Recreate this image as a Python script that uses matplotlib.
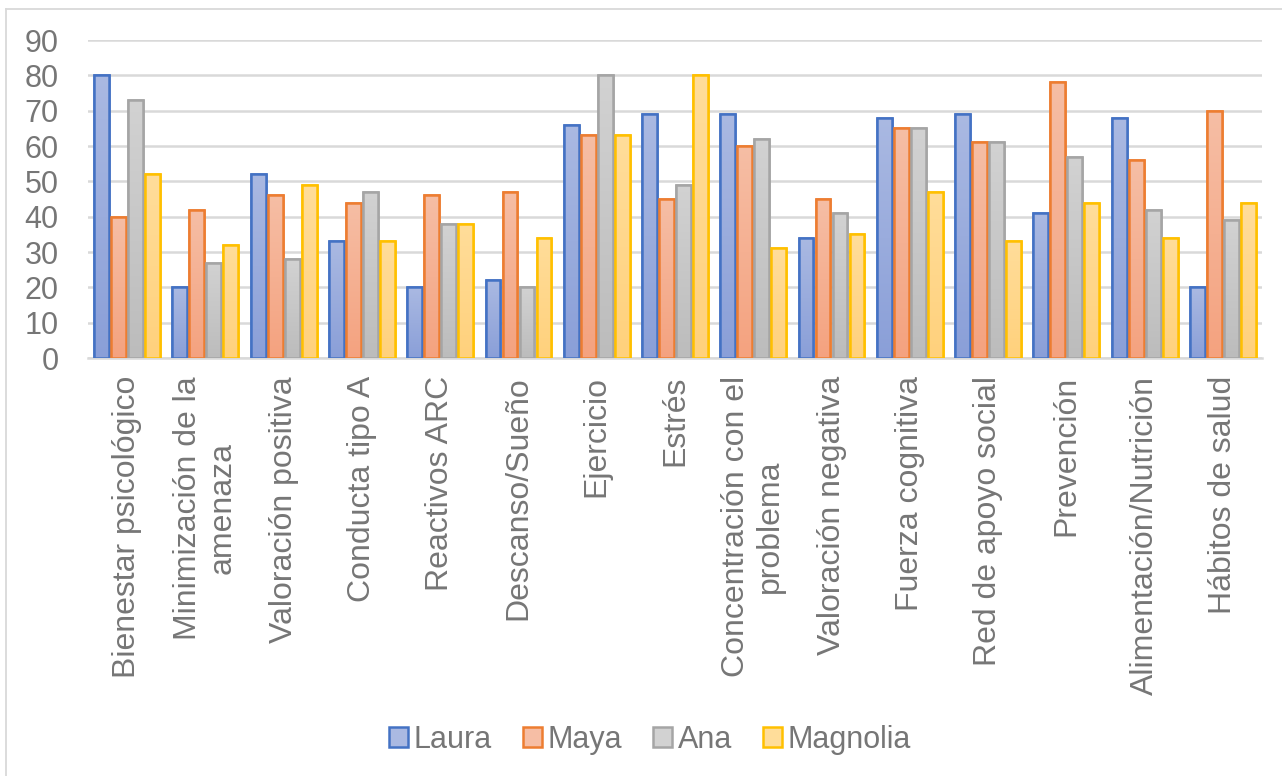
import numpy as np
import matplotlib
matplotlib.use("Agg")
import matplotlib.pyplot as plt
from matplotlib.colors import LinearSegmentedColormap
from matplotlib.patches import Rectangle
from matplotlib.lines import Line2D

plt.rcParams['font.family'] = ['Liberation Sans', 'DejaVu Sans']

categories = [
    "Bienestar psicológico", "Minimización de la\namenaza", "Valoración positiva",
    "Conducta tipo A", "Reactivos ARC", "Descanso/Sueño", "Ejercicio", "Estrés",
    "Concentración con el\nproblema", "Valoración negativa", "Fuerza cognitiva",
    "Red de apoyo social", "Prevención", "Alimentación/Nutrición", "Hábitos de salud",
]
series_names = ["Laura", "Maya", "Ana", "Magnolia"]
laura = [80, 20, 52, 33, 20, 22, 66, 69, 69, 34, 68, 69, 41, 68, 20]
maya = [40, 42, 46, 44, 46, 47, 63, 45, 60, 45, 65, 61, 78, 56, 70]
ana = [73, 27, 28, 47, 38, 20, 80, 49, 62, 41, 65, 61, 57, 42, 39]
magnolia = [52, 32, 49, 33, 38, 34, 63, 80, 31, 35, 47, 33, 44, 34, 44]
yticks = list(range(0, 100, 10))

series = [laura, maya, ana, magnolia]
edges = ["#4472c4", "#ed7d31", "#a5a5a5", "#ffc000"]
grads = [("#8a9fd8", "#aab9e2"), ("#f4a27f", "#f6bea5"),
         ("#bcbcbc", "#d2d2d2"), ("#ffd17c", "#ffdd9a")]
text_col = "#767676"
fs = 22
fs_cat = 23

W, H = 1282, 776
fig = plt.figure(figsize=(W / 100, H / 100), dpi=100)
ax = fig.add_axes([88 / W, 1 - 358 / H, (1262 - 88) / W, (358 - 40) / H])

n = len(categories)
x = np.arange(n)
step = 0.217
width = 0.19
grad_img = np.linspace(0, 1, 256).reshape(-1, 1)

for i, (vals, ec, (c0, c1)) in enumerate(zip(series, edges, grads)):
    cmap = LinearSegmentedColormap.from_list(f"g{i}", [c0, c1])
    offs = (i - 1.5) * step
    bars = ax.bar(x + offs, vals, width, facecolor=c1, edgecolor=ec,
                  linewidth=1.8, zorder=3, label=series_names[i])
    for b in bars:
        x0, y0 = b.get_x(), b.get_y()
        w, h = b.get_width(), b.get_height()
        im = ax.imshow(grad_img, cmap=cmap, origin="lower", aspect="auto",
                       extent=(x0, x0 + w, y0, y0 + h), zorder=3.5)
        im.set_clip_path(b)
        ax.add_patch(Rectangle((x0, y0), w, h, facecolor="none", edgecolor=ec,
                               linewidth=1.8, zorder=4))

ax.set_xlim(-0.5, n - 0.5)
ax.set_ylim(0, 90)
ax.set_yticks(yticks)
ax.yaxis.grid(True, color="#d9d9d9", linewidth=1.8, zorder=0)
ax.set_axisbelow(True)
for s in ["top", "right", "left"]:
    ax.spines[s].set_visible(False)
ax.spines["bottom"].set_color("#d9d9d9")
ax.spines["bottom"].set_linewidth(1.8)
ax.tick_params(axis="y", length=0, pad=21, labelsize=fs, labelcolor=text_col)
ax.tick_params(axis="x", length=0, pad=13)
ax.set_xticks(x)
ax.set_xticklabels(categories, rotation=90, fontsize=fs_cat, color=text_col,
                   ha="center", va="top", multialignment="center", linespacing=1.17)

handles = [Rectangle((0, 0), 1, 1, facecolor=grads[i][1], edgecolor=edges[i],
                     linewidth=1.8) for i in range(4)]
fig.legend(handles, series_names, loc="center", bbox_to_anchor=(650 / W, 1 - 740 / H),
           ncol=4, frameon=False, fontsize=fs, labelcolor=text_col,
           handlelength=0.62, handleheight=0.62, handletextpad=0.2, columnspacing=1.0)

# chart area border (left and top edges visible)
fig.add_artist(Line2D([6 / W, 6 / W], [0, 1 - 9 / H], transform=fig.transFigure,
                      color="#d9d9d9", linewidth=1.3))
fig.add_artist(Line2D([6 / W, 1], [1 - 9 / H, 1 - 9 / H], transform=fig.transFigure,
                      color="#d9d9d9", linewidth=1.3))

fig.savefig("out.png", dpi=100, facecolor="white")
